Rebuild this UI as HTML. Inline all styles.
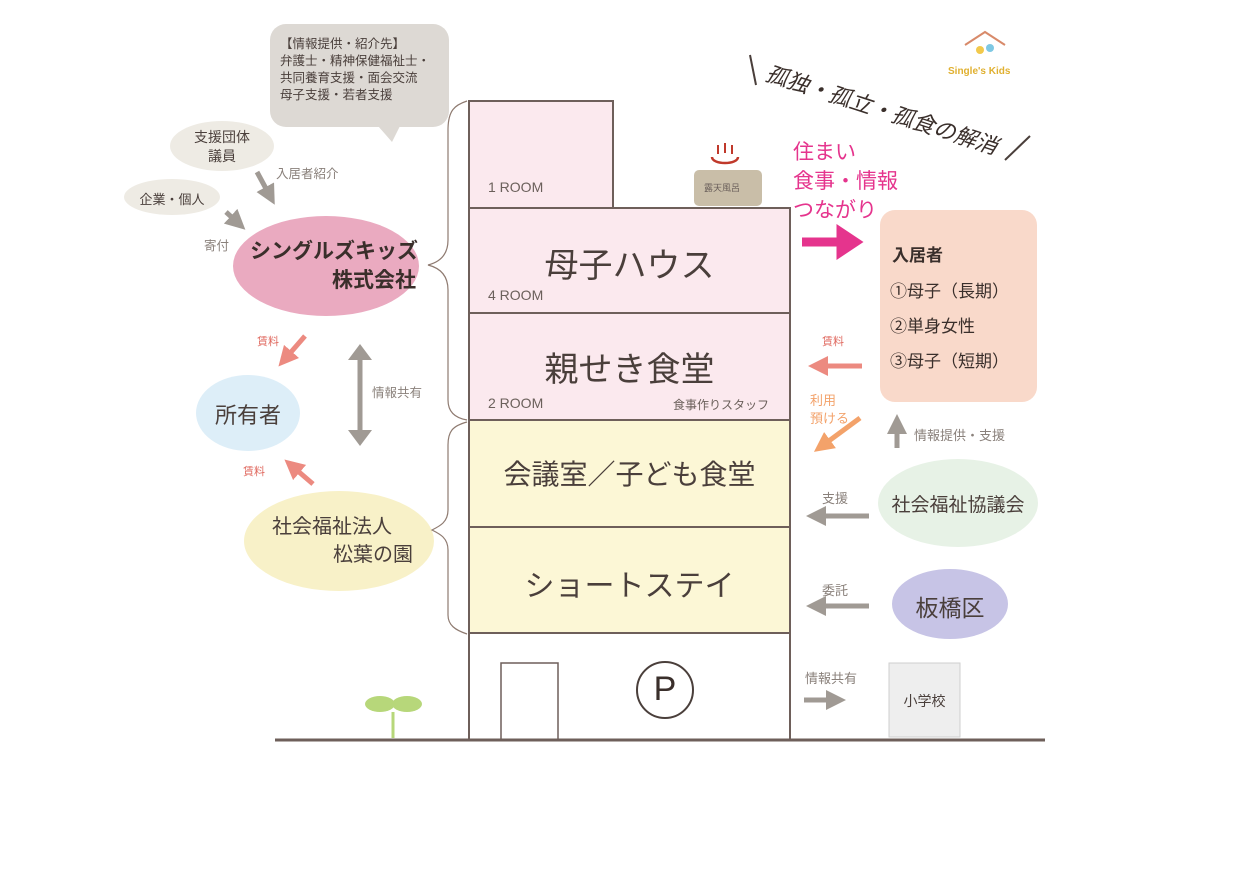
<!DOCTYPE html>
<html><head><meta charset="utf-8"><style>
body{margin:0;width:1242px;height:878px;background:#fff;position:relative;overflow:hidden;font-family:"Liberation Sans","Noto Sans CJK JP",sans-serif;color:#4a3f3b}
.a{position:absolute;white-space:nowrap}
.c{text-align:center}
</style></head><body>
<svg class="a" style="left:0;top:0" width="1242" height="878">
<defs>
<marker id="g" markerWidth="4" markerHeight="4" refX="2" refY="2" orient="auto" markerUnits="strokeWidth"><path d="M0,0L4,2L0,4z" fill="#a09a94"/></marker>
<marker id="r" markerWidth="4" markerHeight="4" refX="2" refY="2" orient="auto" markerUnits="strokeWidth"><path d="M0,0L4,2L0,4z" fill="#ec8a80"/></marker>
<marker id="o" markerWidth="4" markerHeight="4" refX="2" refY="2" orient="auto" markerUnits="strokeWidth"><path d="M0,0L4,2L0,4z" fill="#f3a26a"/></marker>
<marker id="m" markerWidth="3" markerHeight="4" refX="1.5" refY="2" orient="auto" markerUnits="strokeWidth"><path d="M0,0L3,2L0,4z" fill="#e5348d"/></marker>
</defs>
<rect x="270" y="24" width="179" height="103" rx="16" fill="#ddd9d4"/>
<path d="M378,126 L392,142 L400,126z" fill="#ddd9d4"/>
<ellipse cx="222" cy="146" rx="52" ry="25" fill="#eeebe4"/>
<ellipse cx="172" cy="197" rx="48" ry="18" fill="#eeebe4"/>
<ellipse cx="326" cy="266" rx="93" ry="50" fill="#eaaac0"/>
<ellipse cx="248" cy="413" rx="52" ry="38" fill="#ddeef8"/>
<ellipse cx="339" cy="541" rx="95" ry="50" fill="#f8f1c8"/>
<ellipse cx="958" cy="503" rx="80" ry="44" fill="#e7f2e6"/>
<ellipse cx="950" cy="604" rx="58" ry="35" fill="#c7c4e6"/>
<rect x="880" y="210" width="157" height="192" rx="15" fill="#f9d9ca"/>
<rect x="469" y="101" width="144" height="107" fill="#fbe9ee" stroke="#6e5f5a" stroke-width="2"/>
<rect x="694" y="170" width="68" height="36" rx="5" fill="#c9bea8"/>
<rect x="469" y="208" width="321" height="105" fill="#fbe9ee" stroke="#6e5f5a" stroke-width="2"/>
<rect x="469" y="313" width="321" height="107" fill="#fbe9ee" stroke="#6e5f5a" stroke-width="2"/>
<rect x="469" y="420" width="321" height="107" fill="#fcf7d6" stroke="#6e5f5a" stroke-width="2"/>
<rect x="469" y="527" width="321" height="106" fill="#fcf7d6" stroke="#6e5f5a" stroke-width="2"/>
<path d="M469,633V740M790,633V740" stroke="#6e5f5a" stroke-width="2"/>
<rect x="501" y="663" width="57" height="77" fill="#fff" stroke="#6e5f5a" stroke-width="1.5"/>
<circle cx="665" cy="690" r="28" fill="#fff" stroke="#4a3f3b" stroke-width="2"/>
<line x1="275" y1="740" x2="1045" y2="740" stroke="#6e5f5a" stroke-width="3"/>
<path d="M393,738V712" stroke="#b7d77a" stroke-width="3"/>
<ellipse cx="380" cy="704" rx="15" ry="8" fill="#b7d77a"/>
<ellipse cx="407" cy="704" rx="15" ry="8" fill="#b7d77a"/>
<path d="M467,101 C455,105 448,110 448,130 L448,240 C448,255 440,262 428,265 C440,268 448,275 448,290 L448,400 C448,412 455,418 467,420" fill="none" stroke="#8e7a70" stroke-width="1.2"/>
<path d="M467,422 C452,426 448,432 448,445 L448,510 C448,522 440,526 432,530 C440,534 448,538 448,550 L448,615 C448,625 455,630 467,634" fill="none" stroke="#8e7a70" stroke-width="1.2"/>
<rect x="889" y="663" width="71" height="74" fill="#eeeeee" stroke="#cfcfcf"/>
<line x1="257" y1="172" x2="270" y2="196" stroke="#a09a94" stroke-width="5" marker-end="url(#g)"/>
<line x1="226" y1="212" x2="238" y2="223" stroke="#a09a94" stroke-width="5" marker-end="url(#g)"/>
<line x1="305" y1="336" x2="285" y2="359" stroke="#ec8a80" stroke-width="5" marker-end="url(#r)"/>
<line x1="313" y1="484" x2="292" y2="466" stroke="#ec8a80" stroke-width="5" marker-end="url(#r)"/>
<line x1="360" y1="355" x2="360" y2="435" stroke="#a09a94" stroke-width="5"/>
<path d="M348,360L360,344L372,360zM348,430L360,446L372,430z" fill="#a09a94"/>
<line x1="802" y1="242" x2="850" y2="242" stroke="#e5348d" stroke-width="9" marker-end="url(#m)"/>
<line x1="862" y1="366" x2="818" y2="366" stroke="#ec8a80" stroke-width="5" marker-end="url(#r)"/>
<line x1="860" y1="418" x2="822" y2="446" stroke="#f3a26a" stroke-width="5" marker-end="url(#o)"/>
<line x1="897" y1="448" x2="897" y2="424" stroke="#a09a94" stroke-width="5" marker-end="url(#g)"/>
<line x1="869" y1="516" x2="816" y2="516" stroke="#a09a94" stroke-width="5" marker-end="url(#g)"/>
<line x1="869" y1="606" x2="816" y2="606" stroke="#a09a94" stroke-width="5" marker-end="url(#g)"/>
<line x1="804" y1="700" x2="836" y2="700" stroke="#a09a94" stroke-width="5" marker-end="url(#g)"/>
<line x1="750" y1="55" x2="756" y2="85" stroke="#4a3f3b" stroke-width="2"/>
<line x1="1030" y1="136" x2="1005" y2="160" stroke="#4a3f3b" stroke-width="2"/>
<path d="M965,45 L985,32 L1005,45" fill="none" stroke="#d88a6a" stroke-width="2"/>
<circle cx="980" cy="50" r="4" fill="#f2c94c"/><circle cx="990" cy="48" r="4" fill="#7ec8e3"/>
<path d="M712,157c0,8 26,8 26,0" fill="none" stroke="#c0392b" stroke-width="2.5"/>
<path d="M718,145v9M725,143v10M732,145v9" stroke="#c0392b" stroke-width="2"/>
</svg>

<div class="a" style="left:280px;top:36px;font-size:12.5px;line-height:17px;color:#4a3f3b">【情報提供・紹介先】<br>弁護士・精神保健福祉士・<br>共同養育支援・面会交流<br>母子支援・若者支援</div>
<div class="a c" style="left:172px;top:128px;width:100px;font-size:14px;line-height:19px">支援団体<br>議員</div>
<div class="a c" style="left:124px;top:189px;width:96px;font-size:13px">企業・個人</div>
<div class="a" style="left:276px;top:163px;font-size:12.5px;color:#8a817b">入居者紹介</div>
<div class="a" style="left:204px;top:235px;font-size:12.5px;color:#8a817b">寄付</div>
<div class="a" style="left:250px;top:237px;font-size:21px;font-weight:bold;line-height:29px;color:#3a2f2b">シングルズキッズ</div>
<div class="a" style="left:332px;top:266px;font-size:21px;font-weight:bold;line-height:29px;color:#3a2f2b">株式会社</div>
<div class="a" style="left:257px;top:333px;font-size:11px;color:#e06a60">賃料</div>
<div class="a" style="left:243px;top:463px;font-size:11px;color:#e06a60">賃料</div>
<div class="a" style="left:372px;top:382px;font-size:12.5px;color:#8a817b">情報共有</div>
<div class="a c" style="left:196px;top:398px;width:104px;font-size:22px">所有者</div>
<div class="a" style="left:272px;top:510px;font-size:20px">社会福祉法人</div>
<div class="a" style="left:333px;top:538px;font-size:20px">松葉の園</div>

<div class="a" style="left:488px;top:179px;font-size:14px;color:#6b605b">1 ROOM</div>
<div class="a" style="left:704px;top:181px;font-size:9px;color:#6b605b">露天風呂</div>
<div class="a c" style="left:469px;top:238px;width:321px;font-size:34px">母子ハウス</div>
<div class="a" style="left:488px;top:287px;font-size:14px;color:#6b605b">4 ROOM</div>
<div class="a c" style="left:469px;top:342px;width:321px;font-size:34px">親せき食堂</div>
<div class="a" style="left:488px;top:395px;font-size:14px;color:#6b605b">2 ROOM</div>
<div class="a" style="left:673px;top:396px;font-size:12px;color:#6b605b">食事作りスタッフ</div>
<div class="a c" style="left:469px;top:453px;width:321px;font-size:28px">会議室／子ども食堂</div>
<div class="a c" style="left:469px;top:561px;width:321px;font-size:30px">ショートステイ</div>
<div class="a c" style="left:637px;top:670px;width:56px;font-size:34px;color:#3a2f2b">P</div>

<div class="a" style="left:772px;top:56px;font-size:22px;font-style:italic;transform:rotate(18deg);transform-origin:0 0;color:#3a2f2b">孤独・孤立・孤食の解消</div>
<div class="a" style="left:948px;top:66px;font-size:10px;font-weight:bold;color:#e0b030">Single's Kids</div>
<div class="a" style="left:793px;top:138px;font-size:21px;line-height:29px;color:#e5348d">住まい<br>食事・情報<br>つながり</div>
<div class="a" style="left:892px;top:241px;font-size:17px;font-weight:bold;color:#3a2f2b">入居者</div>
<div class="a" style="left:890px;top:274px;font-size:17px;line-height:35px;color:#3a2f2b">①母子（長期）<br>②単身女性<br>③母子（短期）</div>
<div class="a" style="left:822px;top:333px;font-size:11px;color:#e06a60">賃料</div>
<div class="a" style="left:810px;top:392px;font-size:13px;line-height:18px;color:#f3a26a">利用<br>預ける</div>
<div class="a" style="left:914px;top:425px;font-size:13px;color:#8a817b">情報提供・支援</div>
<div class="a" style="left:822px;top:488px;font-size:13px;color:#8a817b">支援</div>
<div class="a c" style="left:878px;top:490px;width:160px;font-size:19px">社会福祉協議会</div>
<div class="a" style="left:822px;top:580px;font-size:13px;color:#8a817b">委託</div>
<div class="a c" style="left:892px;top:589px;width:116px;font-size:23px">板橋区</div>
<div class="a" style="left:805px;top:668px;font-size:13px;color:#8a817b">情報共有</div>
<div class="a c" style="left:889px;top:691px;width:71px;font-size:14px">小学校</div>
</body></html>
